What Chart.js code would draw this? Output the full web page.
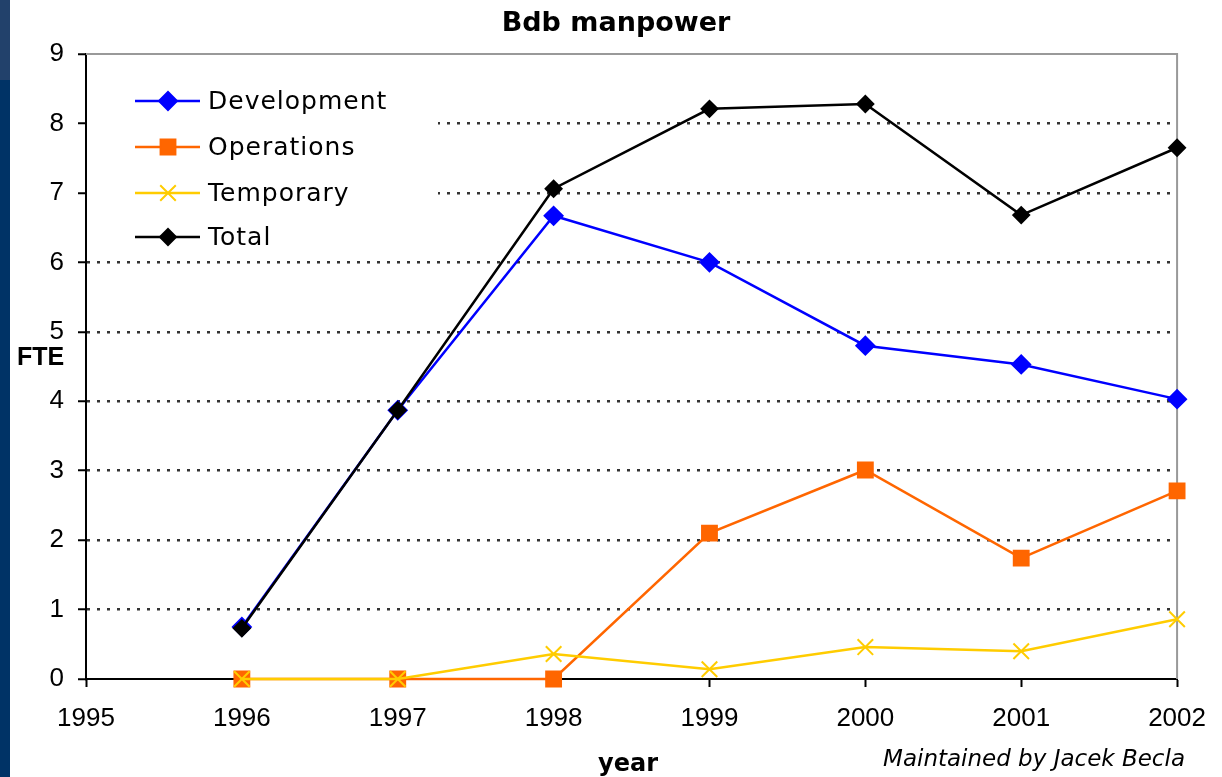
<!DOCTYPE html>
<html>
<head>
<meta charset="utf-8">
<script src="https://cdn.jsdelivr.net/npm/chart.js@4.4.0/dist/chart.umd.min.js"></script>
<style>
  html, body { margin: 0; padding: 0; background: #fff; overflow: hidden; }
  #wrap { width: 1222px; height: 777px; }
</style>
</head>
<body>
<div id="wrap"><canvas id="chart" width="1222" height="777"></canvas></div>
<script>
// values
var YEARS       = [1996, 1997, 1998, 1999, 2000, 2001, 2002];
var DEVELOPMENT = [0.75, 3.87, 6.67, 6.00, 4.80, 4.53, 4.03];
var OPERATIONS  = [0,    0,    0,    2.10, 3.01, 1.74, 2.71];
var TEMPORARY   = [0,    0,    0.36, 0.14, 0.46, 0.40, 0.86];
var TOTAL       = [0.73, 3.87, 7.06, 8.21, 8.28, 6.68, 7.65];
var X_MIN = 1995, X_MAX = 2002;
var Y_MIN = 0, Y_MAX = 9;

function pts(vals) {
    return YEARS.map(function (y, i) { return { x: y, y: vals[i] }; });
}

var SERIES = [
    { label: 'Development', data: DEVELOPMENT, color: '#0000ff', style: 'rectRot', r: 9, order: 3 },
    { label: 'Operations',  data: OPERATIONS,  color: '#ff6600', style: 'rect',    r: 10.5, order: 2 },
    { label: 'Temporary',   data: TEMPORARY,   color: '#ffcc00', style: 'crossRot', r: 11, order: 1 },
    { label: 'Total',       data: TOTAL,       color: '#000000', style: 'rectRot', r: 8, order: 0 }
];

var decor = {
    id: 'decor',
    beforeDraw: function (chart) {
        var ctx = chart.ctx;
        ctx.save();
        ctx.fillStyle = '#fff';
        ctx.fillRect(0, 0, chart.width, chart.height);
        ctx.fillStyle = '#22416b';
        ctx.fillRect(0, 0, 10, 80);
        ctx.fillStyle = '#003366';
        ctx.fillRect(0, 80, 10, chart.height - 80);
        ctx.restore();
    },
    beforeDatasetsDraw: function (chart) {
        var ctx = chart.ctx, a = chart.chartArea;
        ctx.save();
        // legend box hides the grid behind it
        ctx.fillStyle = '#fff';
        ctx.fillRect(a.left + 1, a.top + 1, 351, 196);
        // plot border (top / right)
        ctx.strokeStyle = '#999';
        ctx.lineWidth = 2;
        ctx.beginPath();
        ctx.moveTo(a.left, a.top);
        ctx.lineTo(a.right, a.top);
        ctx.lineTo(a.right, a.bottom);
        ctx.stroke();
        // legend
        ctx.font = '25px "DejaVu Sans"';
        ctx.letterSpacing = '1px';
        ctx.textBaseline = 'middle';
        ctx.textAlign = 'left';
        var rows = [101, 147, 193, 237];
        SERIES.forEach(function (s, i) {
            var y = rows[i];
            ctx.strokeStyle = s.color;
            ctx.fillStyle = s.color;
            ctx.lineWidth = 2.5;
            ctx.beginPath();
            ctx.moveTo(135, y);
            ctx.lineTo(200, y);
            ctx.stroke();
            ctx.lineWidth = 2;
            Chart.helpers.drawPoint(ctx, { pointStyle: s.style, radius: s.r, rotation: 0, borderWidth: 2 }, 168, y);
            ctx.fillStyle = '#000';
            ctx.fillText(s.label, 208, y + 1);
        });
        ctx.restore();
    },
    afterDraw: function (chart) {
        var ctx = chart.ctx;
        ctx.save();
        ctx.fillStyle = '#000';
        ctx.textBaseline = 'middle';
        ctx.textAlign = 'center';
        ctx.font = 'bold 27px "DejaVu Sans"';
        ctx.fillText('Bdb manpower', 616, 24);
        ctx.font = 'bold 24px "DejaVu Sans"';
        ctx.fillText('year', 628, 765);
        ctx.textAlign = 'left';
        ctx.font = 'bold 25px "Liberation Sans"';
        ctx.fillText('FTE', 17, 358);
        ctx.textAlign = 'right';
        ctx.font = 'italic 23px "DejaVu Sans"';
        ctx.fillText('Maintained by Jacek Becla', 1185, 760);
        ctx.restore();
    }
};

new Chart(document.getElementById('chart'), {
    type: 'line',
    data: {
        datasets: SERIES.map(function (s) {
            return {
                label: s.label,
                data: pts(s.data),
                order: s.order,
                borderColor: s.color,
                backgroundColor: s.color,
                borderWidth: 2.5,
                pointStyle: s.style,
                pointRadius: s.r,
                pointHoverRadius: s.r,
                pointBorderColor: s.color,
                pointBackgroundColor: s.color,
                pointBorderWidth: 2,
                tension: 0,
                clip: false
            };
        })
    },
    options: {
        responsive: false,
        animation: false,
        events: [],
        layout: { padding: { left: 10, top: 54, right: 44, bottom: 38 } },
        plugins: { legend: { display: false }, title: { display: false }, tooltip: { enabled: false } },
        scales: {
            x: {
                type: 'linear',
                min: X_MIN, max: X_MAX,
                afterFit: function (s) { s.height = 60; },
                ticks: {
                    stepSize: 1, color: '#000', padding: 16,
                    font: { family: 'Liberation Sans', size: 26 },
                    callback: function (v) { return String(v); }
                },
                grid: { drawOnChartArea: false, tickLength: 8, tickColor: '#000', tickWidth: 2 },
                border: { color: '#000', width: 2 }
            },
            y: {
                min: Y_MIN, max: Y_MAX,
                afterFit: function (s) { s.width = 76; },
                ticks: {
                    stepSize: 1, color: '#000', padding: 14,
                    font: { family: 'Liberation Sans', size: 26 }
                },
                grid: {
                    color: function (c) { return (c.tick && (c.tick.value === Y_MIN || c.tick.value === Y_MAX)) ? 'rgba(0,0,0,0)' : '#333'; },
                    lineWidth: 2.5,
                    tickLength: 8, tickColor: '#000', tickWidth: 2, tickBorderDash: []
                },
                border: { color: '#000', width: 2, dash: [3, 7] }
            }
        }
    },
    plugins: [decor]
});
</script>
</body>
</html>
